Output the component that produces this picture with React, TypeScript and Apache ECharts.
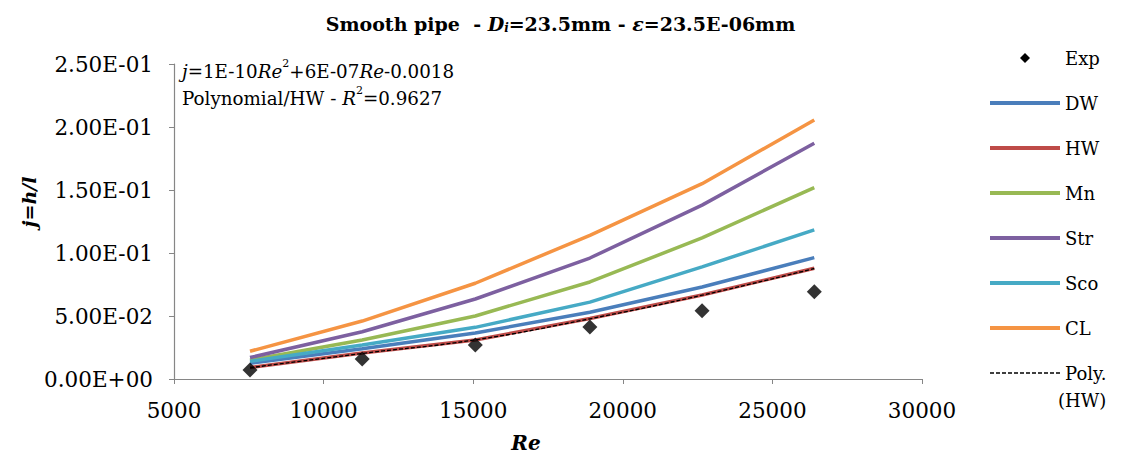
import React, { useEffect, useRef } from "react";
import * as echarts from "echarts";

const reValues = [7540, 11290, 15070, 18900, 22650, 26400];
const expValues = [0.0071, 0.0159, 0.027, 0.0413, 0.0542, 0.0693];
const dwValues = [0.0125, 0.024, 0.0365, 0.053, 0.073, 0.0963];
const hwValues = [0.0092, 0.0206, 0.031, 0.048, 0.0667, 0.0879];
const mnValues = [0.015, 0.031, 0.05, 0.077, 0.112, 0.1519];
const strValues = [0.017, 0.0375, 0.0635, 0.096, 0.138, 0.1871];
const scoValues = [0.014, 0.027, 0.041, 0.061, 0.089, 0.1183];
const clValues = [0.022, 0.046, 0.076, 0.114, 0.155, 0.2056];
const polyValues = [0.0089, 0.0203, 0.0311, 0.0478, 0.0665, 0.0877];

const xTicks = { min: 5000, max: 30000, interval: 5000 };
const yTicks = { min: 0, max: 0.25, interval: 0.05 };

const SERIF = "'DejaVu Serif', serif";

const fmtExp = (v: number) => {
  if (v === 0) return "0.00E+00";
  const [m, e] = v.toExponential(2).split("e");
  const n = parseInt(e, 10);
  return m + "E" + (n < 0 ? "-" : "+") + String(Math.abs(n)).padStart(2, "0");
};

const pairs = (ys: number[]) => reValues.map((x, i) => [x, ys[i]]);

export default function App() {
  const ref = useRef<HTMLDivElement>(null);
  useEffect(() => {
    if (!ref.current) return;
    const chart = echarts.init(ref.current, undefined, { renderer: "svg" });
    const lineSeries = (name: string, data: number[], color: string) => ({
      name,
      type: "line",
      data: pairs(data),
      symbol: "none",
      lineStyle: { color, width: 3.5 },
      itemStyle: { color },
    });
    chart.setOption({
      animation: false,
      backgroundColor: "#ffffff",
      title: {
        left: "center",
        top: 9,
        text: "{b|Smooth pipe  - }{bi|D}{sub|i}{b|=23.5mm - }{bi|ε}{b|=23.5E-06mm}",
        textStyle: {
          rich: {
            b: { fontFamily: SERIF, fontWeight: "bold", fontSize: 19, color: "#000" },
            bi: { fontFamily: SERIF, fontWeight: "bold", fontStyle: "italic", fontSize: 19, color: "#000" },
            sub: { fontFamily: SERIF, fontWeight: "bold", fontStyle: "italic", fontSize: 12, color: "#000", verticalAlign: "bottom", padding: [8, 0, 0, 0] },
          },
        },
      },
      grid: {
        left: 174,
        right: 199,
        top: 64,
        bottom: 80,
        containLabel: false,
        outerBoundsMode: "none",
      },
      legend: {
        orient: "vertical",
        left: 983,
        top: 42,
        itemWidth: 70,
        itemHeight: 10,
        itemGap: 23,
        itemStyle: { opacity: 0 },
        lineStyle: { width: 4 },
        textStyle: { fontFamily: SERIF, fontSize: 18, color: "#000", lineHeight: 22 },
        formatter: (name: string) => (name === "Poly. (HW)" ? "Poly." : name),
        data: [
          { name: "Exp", icon: "path://M5,0L10,5L5,10L0,5Z", itemStyle: { opacity: 1, color: "#000" } },
          "DW",
          "HW",
          "Mn",
          "Str",
          "Sco",
          "CL",
          { name: "Poly. (HW)", lineStyle: { width: 1.3 } },
        ],
      },
      xAxis: {
        type: "value",
        min: xTicks.min,
        max: xTicks.max,
        interval: xTicks.interval,
        axisLine: { lineStyle: { color: "#868686", width: 1.2 } },
        axisTick: { show: true, length: 5, inside: false, lineStyle: { color: "#868686" } },
        splitLine: { show: false },
        axisLabel: { fontFamily: SERIF, fontSize: 21.5, color: "#000", margin: 20, formatter: (v: number) => String(v) },
      },
      yAxis: {
        type: "value",
        min: yTicks.min,
        max: yTicks.max,
        interval: yTicks.interval,
        axisLine: { show: true, lineStyle: { color: "#868686", width: 1.2 } },
        axisTick: { show: true, length: 5, inside: false, lineStyle: { color: "#868686" } },
        splitLine: { show: false },
        axisLabel: { fontFamily: SERIF, fontSize: 21.5, color: "#000", margin: 21, formatter: fmtExp },
      },
      graphic: [
        {
          type: "text",
          x: 182,
          y: 58,
          style: {
            text: "{i|j}{n|=1E-10}{i|Re}{sup|2}{n|+6E-07}{i|Re}{n|-0.0018}\n{n|Polynomial/HW - }{i|R}{sup|2}{n|=0.9627}",
            rich: {
              n: { fontFamily: SERIF, fontSize: 18.3, color: "#000", lineHeight: 27 },
              i: { fontFamily: SERIF, fontSize: 18.3, fontStyle: "italic", color: "#000", lineHeight: 27 },
              sup: { fontFamily: SERIF, fontSize: 11, color: "#000", lineHeight: 27, verticalAlign: "top", padding: [0, 0, 10, 0] },
            },
          },
        },
        {
          type: "text",
          x: 29,
          y: 202,
          rotation: Math.PI / 2,
          style: {
            text: "j=h/l",
            fontFamily: SERIF,
            fontSize: 19,
            fontWeight: "bold",
            fontStyle: "italic",
            fill: "#000",
            align: "center",
            verticalAlign: "middle",
          },
        },
        {
          type: "text",
          x: 526,
          y: 443,
          style: {
            text: "Re",
            fontFamily: SERIF,
            fontSize: 20,
            fontWeight: "bold",
            fontStyle: "italic",
            fill: "#000",
            align: "center",
            verticalAlign: "middle",
          },
        },
        {
          type: "text",
          x: 1058,
          y: 400,
          style: {
            text: "(HW)",
            fontFamily: SERIF,
            fontSize: 18,
            fill: "#000",
            align: "left",
            verticalAlign: "middle",
          },
        },
      ],
      series: [
        lineSeries("DW", dwValues, "#4A7EBB"),
        lineSeries("HW", hwValues, "#BE4B48"),
        lineSeries("Mn", mnValues, "#98B954"),
        lineSeries("Str", strValues, "#7D60A0"),
        lineSeries("Sco", scoValues, "#46AAC5"),
        lineSeries("CL", clValues, "#F59443"),
        {
          name: "Poly. (HW)",
          type: "line",
          data: pairs(polyValues),
          symbol: "none",
          smooth: true,
          lineStyle: { color: "#000", width: 1.3, type: [4, 2] },
          itemStyle: { color: "#000" },
          z: 4,
        },
        {
          name: "Exp",
          type: "scatter",
          data: pairs(expValues),
          symbol: "diamond",
          symbolSize: 15,
          itemStyle: { color: "#000" },
          z: 5,
        },
      ],
    });
    return () => chart.dispose();
  }, []);
  return (
    <div
      ref={ref}
      style={{ position: "fixed", left: 0, top: 0, width: 1121, height: 459 }}
    />
  );
}
